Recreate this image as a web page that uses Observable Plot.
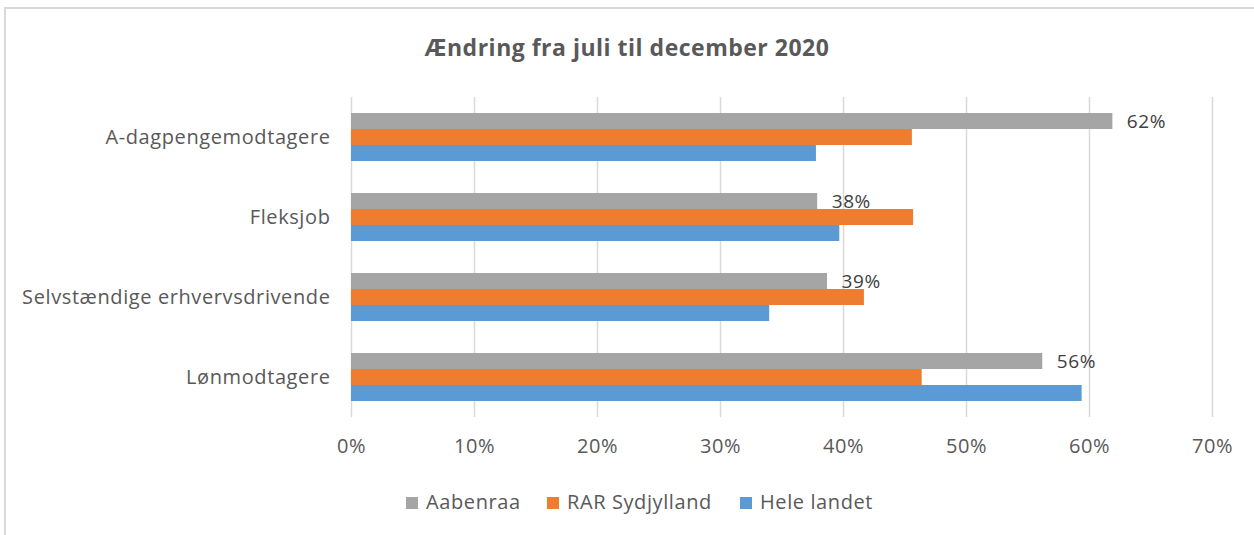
<!DOCTYPE html>
<html><head><meta charset="utf-8">
<script src="https://cdn.jsdelivr.net/npm/d3@7"></script>
<script src="https://cdn.jsdelivr.net/npm/@observablehq/plot@0.6"></script>
<style>
body{margin:0;background:#fff;}
#wrap{position:relative;width:1254px;height:535px;overflow:hidden;font-family:"Open Sans",Lato,sans-serif;background:#fff;}
#frame{position:absolute;left:4px;top:7px;width:1300px;height:600px;border-top:2px solid #d9d9d9;border-left:2px solid #d9d9d9;}
#title{position:absolute;top:31px;left:0;width:1254px;text-align:center;font-size:23px;letter-spacing:0.5px;font-weight:bold;color:#595959;}
#chart{position:absolute;left:0;top:0;}
#chart svg text{letter-spacing:0.6px;}
.leg{position:absolute;top:489px;font-size:20px;letter-spacing:0.6px;color:#595959;line-height:26px;white-space:nowrap;}
.leg span.sw{display:inline-block;width:12px;height:12px;margin-right:8px;vertical-align:0px;}
</style>
</head><body>
<div id="wrap">
  <div id="frame"></div>
  <div id="chart"></div>
  <div id="title">Ændring fra juli til december 2020</div>
  <div id="legend"></div>
</div>
<script>
const categories = ["A-dagpengemodtagere", "Fleksjob", "Selvstændige erhvervsdrivende", "Lønmodtagere"];
const series = ["Aabenraa", "RAR Sydjylland", "Hele landet"];
const aabenraa = [0.619, 0.379, 0.387, 0.562];
const rarSydjylland = [0.456, 0.457, 0.417, 0.464];
const heleLandet = [0.378, 0.397, 0.340, 0.594];
const colors = ["#a5a5a5", "#ed7d31", "#5b9bd5"];
const xTicks = [0, 0.1, 0.2, 0.3, 0.4, 0.5, 0.6, 0.7];

const valuesBySeries = [aabenraa, rarSydjylland, heleLandet];
const data = [];
categories.forEach((c, i) => series.forEach((s, j) => data.push({category: c, series: s, value: valuesBySeries[j][i]})));
const pct = d3.format(".0%");

const plot = Plot.plot({
  width: 1254,
  height: 535,
  marginLeft: 351,
  marginRight: 42,
  marginTop: 97,
  marginBottom: 118,
  style: {fontFamily: "'Open Sans', Lato, sans-serif", fontSize: "20px", color: "#595959", background: "transparent"},
  x: {domain: [0, 0.7], ticks: xTicks, tickFormat: pct, tickSize: 0, tickPadding: 21, label: null},
  y: {domain: series, axis: null, paddingInner: 0, paddingOuter: 0.9},
  fy: {domain: categories, padding: 0, axis: "left", tickSize: 0, tickPadding: 21, label: null},
  color: {domain: series, range: colors},
  marks: [
    Plot.gridX(xTicks, {stroke: "#d9d9d9", strokeOpacity: 1, strokeWidth: 1.5}),
    Plot.barX(data, {x: "value", y: "series", fy: "category", fill: "series"}),
    Plot.text(data.filter(d => d.series === series[0]), {x: "value", y: "series", fy: "category", text: d => pct(d.value), textAnchor: "start", dx: 14, fontSize: 19, fill: "#404040"})
  ]
});
document.getElementById("chart").appendChild(plot);

const legendLeft = [406, 547, 740];
const legend = document.getElementById("legend");
series.forEach((s, i) => {
  const el = document.createElement("div");
  el.className = "leg";
  el.style.left = legendLeft[i] + "px";
  el.innerHTML = `<span class="sw" style="background:${colors[i]}"></span>${s}`;
  legend.appendChild(el);
});
</script>
</body></html>
